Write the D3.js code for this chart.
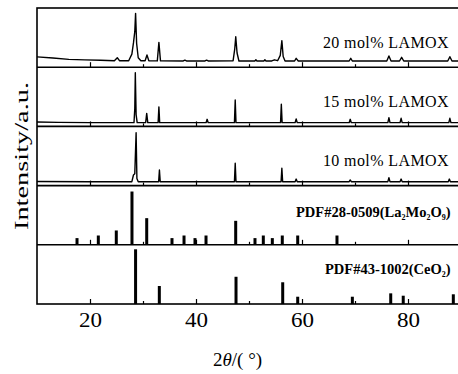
<!DOCTYPE html>
<html>
<head>
<meta charset="utf-8">
<script src="https://cdn.jsdelivr.net/npm/d3@7"></script>
<style>
  body { margin: 0; background: #fff; }
  svg text { font-family: "Times New Roman", "Liberation Serif", serif; fill: #000; }
</style>
</head>
<body>
<div id="my_dataviz"></div>
<script>
// measured patterns: [2theta, intensity in panel units 0-100]
const mol20 = [
  [10, 17.4], [13, 15.5], [16, 13.3], [19, 12.3], [22, 11.7], [24.6, 11], [25.15, 16], [25.6, 10.8],
  [27.3, 11], [27.9, 22], [28.2, 41], [28.45, 60], [28.6, 91], [28.8, 40], [29.1, 16], [29.6, 11],
  [30.4, 11], [30.75, 20.6], [31.1, 11], [32.7, 10.6], [33.0, 42], [33.3, 10.6],
  [37.6, 10.5], [37.9, 12], [38.2, 10.5], [41.7, 10.5], [42.0, 12], [42.3, 10.5],
  [47.0, 11], [47.3, 30], [47.5, 51.5], [47.75, 24], [48.1, 10.5],
  [51.1, 10.5], [51.3, 12.5], [51.5, 10.5], [52.8, 10.5], [53.0, 12.5], [53.2, 10.5],
  [54.3, 10.5], [54.8, 12.5], [55.4, 11], [55.9, 20], [56.2, 44.8], [56.45, 18], [56.8, 10.5],
  [58.6, 10.5], [58.9, 15], [59.3, 10.5], [68.9, 10.5], [69.2, 15], [69.5, 10.5],
  [76.0, 10.5], [76.4, 19], [76.8, 10.5], [78.4, 10.5], [78.8, 16.7], [79.2, 10.5],
  [87.5, 10.5], [87.9, 17.7], [88.3, 10.5], [90, 10.5]
];

const mol15 = [
  [10, 7.5], [14, 6.8], [20, 6.4], [28.3, 6.3], [28.45, 30], [28.55, 90.7], [28.7, 20], [28.9, 6.3],
  [30.5, 6.3], [30.7, 22], [30.9, 6.3], [32.85, 6.3], [33.0, 33], [33.15, 6.3],
  [41.9, 6.3], [42.1, 12], [42.3, 6.3], [47.25, 6.3], [47.4, 44.6], [47.55, 6.3],
  [55.95, 6.3], [56.1, 37.3], [56.25, 6.3], [58.7, 6.3], [58.9, 12.5], [59.1, 6.3],
  [68.9, 6.3], [69.1, 12], [69.3, 6.3], [76.2, 6.3], [76.4, 14.7], [76.6, 6.3],
  [78.5, 6.3], [78.7, 13.7], [78.9, 6.3], [87.7, 6.3], [87.9, 13.7], [88.1, 6.3], [90, 6.3]
];

const mol10 = [
  [10, 6.8], [20, 6.6], [27.9, 6.6], [28.2, 17.9], [28.45, 20], [28.7, 89.4], [28.85, 12], [29.1, 6.6],
  [32.95, 6.6], [33.1, 26.4], [33.25, 6.6], [47.25, 6.6], [47.4, 37.7], [47.55, 6.6],
  [56.05, 6.6], [56.2, 29.2], [56.35, 6.6], [58.7, 6.6], [58.9, 11.1], [59.1, 6.6],
  [68.9, 6.6], [69.1, 9.5], [69.3, 6.6], [76.2, 6.6], [76.4, 13.3], [76.6, 6.6],
  [78.5, 6.6], [78.7, 11.1], [78.9, 6.6], [87.6, 6.6], [87.8, 11.1], [88, 6.6], [90, 6.6]
];

// reference cards (stick patterns)
const lamoAngles = [17.55, 21.57, 24.96, 27.92, 30.70, 35.47, 37.74, 39.81, 41.89, 47.49, 51.13, 52.70, 54.40, 56.28, 59.19, 66.60];
const lamoHeights = [11.3, 15.7, 24.2, 90, 45, 11.3, 15.7, 11.3, 15.7, 40.5, 11.3, 15.7, 11.3, 15.7, 15.7, 15.7];

const ceoAngles = [28.6, 33.08, 47.55, 56.36, 59.19, 69.5, 76.74, 79.1, 88.55];
const ceoHeights = [92.4, 30.4, 46, 36.7, 12.3, 12.3, 18, 14, 16.4];

const majorTicks = [20, 40, 60, 80];
const minorTicks = [30, 50, 70, 90];

const width = 458, height = 374;
const mLeft = 37, mRight = 461, mTop = 8, mBottom = 304;
const nPanels = 5;
const panelH = (mBottom - mTop) / nPanels;

const svg = d3.select("#my_dataviz").append("svg")
  .attr("width", width)
  .attr("height", height);

const x = d3.scaleLinear().domain([10, 90]).range([mLeft, mRight]);

// y scale per panel, index 0 = top panel
const yPanel = i => d3.scaleLinear().domain([0, 100])
  .range([mTop + (i + 1) * panelH, mTop + i * panelH]);

const lines = [mol20, mol15, mol10];
const lineLabels = ["20 mol% LAMOX", "15 mol% LAMOX", "10 mol% LAMOX"];

lines.forEach((data, i) => {
  const y = yPanel(i);
  const line = d3.line().x(d => x(d[0])).y(d => y(d[1]));
  svg.append("path")
    .datum(data)
    .attr("fill", "none")
    .attr("stroke", "#000")
    .attr("stroke-width", 1.4)
    .attr("stroke-linejoin", "round")
    .attr("d", line);

  svg.append("text")
    .attr("x", 449)
    .attr("y", y(33))
    .attr("text-anchor", "end")
    .attr("font-size", 16)
    .attr("letter-spacing", 0.4)
    .text(lineLabels[i]);
});

// stick panels
const drawSticks = (angles, heights, i) => {
  const y = yPanel(i);
  svg.append("g")
    .selectAll("rect")
    .data(angles)
    .join("rect")
    .attr("x", d => x(d) - 1.5)
    .attr("width", 3)
    .attr("y", (d, j) => y(heights[j]))
    .attr("height", (d, j) => y(0) - y(heights[j]))
    .attr("fill", "#000");
};
drawSticks(lamoAngles, lamoHeights, 3);
drawSticks(ceoAngles, ceoHeights, 4);

const pdf1 = svg.append("text")
  .attr("x", 296)
  .attr("y", yPanel(3)(47.5))
  .attr("font-size", 14.5)
  .attr("font-weight", "bold");
pdf1.append("tspan").text("PDF#28-0509(La");
pdf1.append("tspan").attr("font-size", 8).attr("dy", 3).text("2");
pdf1.append("tspan").attr("dy", -3).text("Mo");
pdf1.append("tspan").attr("font-size", 8).attr("dy", 3).text("2");
pdf1.append("tspan").attr("dy", -3).text("O");
pdf1.append("tspan").attr("font-size", 8).attr("dy", 3).text("9");
pdf1.append("tspan").attr("dy", -3).text(")");

const pdf2 = svg.append("text")
  .attr("x", 325)
  .attr("y", yPanel(4)(50.5))
  .attr("font-size", 14.5)
  .attr("font-weight", "bold");
pdf2.append("tspan").text("PDF#43-1002(CeO");
pdf2.append("tspan").attr("font-size", 8).attr("dy", 3).text("2");
pdf2.append("tspan").attr("dy", -3).text(")");

// inward ticks on every panel bottom
for (let i = 0; i < nPanels; i++) {
  const yb = mTop + (i + 1) * panelH;
  const gMaj = svg.append("g")
    .attr("transform", `translate(0,${yb})`)
    .call(d3.axisBottom(x).tickValues(majorTicks).tickSize(-5).tickFormat(""));
  const gMin = svg.append("g")
    .attr("transform", `translate(0,${yb})`)
    .call(d3.axisBottom(x).tickValues(minorTicks).tickSize(-3).tickFormat(""));
  [gMaj, gMin].forEach(g => {
    g.select(".domain").remove();
    g.selectAll(".tick line").attr("stroke", "#000").attr("stroke-width", 1.2);
  });
}

// tick labels
const gLab = svg.append("g")
  .attr("transform", `translate(0,${mBottom})`)
  .call(d3.axisBottom(x).tickValues(majorTicks).tickSize(0).tickPadding(9));
gLab.select(".domain").remove();
gLab.selectAll(".tick text")
  .attr("font-size", 20)
  .attr("font-family", '"Times New Roman", "Liberation Serif", serif')
  .attr("textLength", 23)
  .attr("lengthAdjust", "spacingAndGlyphs");

// panel separators and frame
for (let i = 1; i < nPanels; i++) {
  svg.append("line")
    .attr("x1", mLeft).attr("x2", mRight)
    .attr("y1", mTop + i * panelH).attr("y2", mTop + i * panelH)
    .attr("stroke", "#000").attr("stroke-width", 1.6);
}
svg.append("rect")
  .attr("x", mLeft).attr("y", mTop)
  .attr("width", mRight - mLeft).attr("height", mBottom - mTop)
  .attr("fill", "none")
  .attr("stroke", "#000")
  .attr("stroke-width", 1.6);

// axis titles
svg.append("text")
  .attr("transform", `translate(28,${(mTop + mBottom) / 2}) rotate(-90)`)
  .attr("text-anchor", "middle")
  .attr("font-size", 19.5)
  .attr("textLength", 148)
  .attr("lengthAdjust", "spacingAndGlyphs")
  .text("Intensity/a.u.");

const xt = svg.append("text")
  .attr("x", 213)
  .attr("y", 366)
  .attr("font-size", 19);
xt.append("tspan").text("2");
xt.append("tspan").attr("font-style", "italic").text("θ");
xt.append("tspan").text("/( °)");
</script>
</body>
</html>
